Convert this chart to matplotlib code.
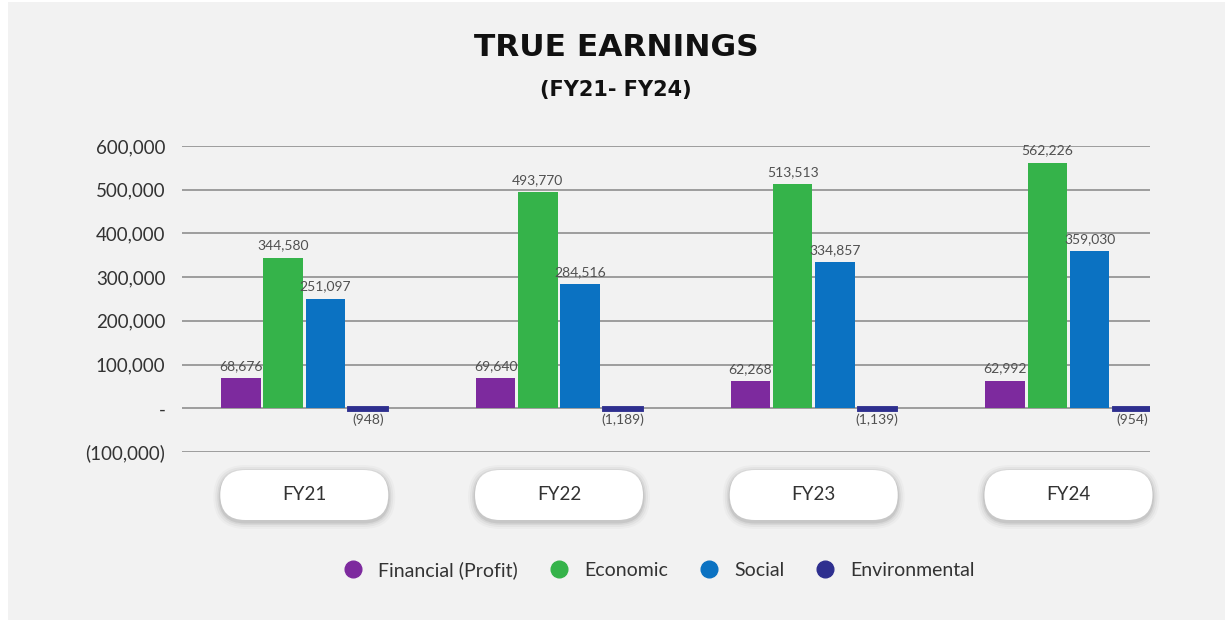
import matplotlib
matplotlib.use("Agg")
import matplotlib.pyplot as plt
from matplotlib.patches import FancyBboxPatch, Rectangle
from matplotlib.lines import Line2D
from matplotlib.ticker import FuncFormatter
import numpy as np

categories = ["FY21", "FY22", "FY23", "FY24"]
series_names = ["Financial (Profit)", "Economic", "Social", "Environmental"]
financial = [68676, 69640, 62268, 62992]
economic = [344580, 493770, 513513, 562226]
social = [251097, 284516, 334857, 359030]
environmental = [-948, -1189, -1139, -954]
colors = ["#7d2a9e", "#35b34a", "#0b72c2", "#2e2f8f"]
yticks = [-100000, 0, 100000, 200000, 300000, 400000, 500000, 600000]

W, H = 1232, 623
fig = plt.figure(figsize=(W / 100, H / 100), dpi=100, facecolor="white")
FONT = "Lato"

# background overlay axes in pixel coordinates
bg = fig.add_axes([0, 0, 1, 1], zorder=0)
bg.set_xlim(0, W)
bg.set_ylim(H, 0)
bg.axis("off")
bg.add_patch(Rectangle((8, 2), 1225 - 8, 620 - 2, facecolor="#f2f2f2",
                       edgecolor="none", zorder=0))

ax = fig.add_axes([182 / W, 1 - 452 / H, (1150 - 182) / W, (452 - 146) / H], zorder=2)
ax.set_facecolor("none")

x = np.arange(len(categories))
step = 0.166
bw = 0.155
all_series = [financial, economic, social, environmental]
for k, (vals, col) in enumerate(zip(all_series, colors)):
    pos = x + (k - 1.5) * step
    lw = 3.5 if k == 3 else 0
    ax.bar(pos, vals, width=bw if k < 3 else bw - 0.012, color=col,
           edgecolor=col, linewidth=lw, zorder=3)
    for p, v in zip(pos, vals):
        if v >= 0:
            ax.text(p, v + 14000, f"{v:,}", ha="center", va="bottom",
                    fontsize=10, color="#505050", family=FONT, zorder=4)
        else:
            ax.text(p, v - 11000, f"({abs(v):,})", ha="center", va="top",
                    fontsize=10, color="#505050", family=FONT, zorder=4)

ax.set_ylim(-100000, 600000)
ax.set_xlim(-0.48, 3.32)
ax.set_yticks(yticks)


def fmt(v, _):
    if v == 0:
        return "-"
    if v < 0:
        return f"({abs(int(v)):,})"
    return f"{int(v):,}"


ax.yaxis.set_major_formatter(FuncFormatter(fmt))
ax.set_xticks([])
ax.grid(axis="y", color="#8f8f8f", linewidth=1.2, zorder=1)
for s in ax.spines.values():
    s.set_visible(False)
ax.tick_params(axis="y", length=0, pad=12, labelsize=13.5, labelcolor="#333333")
for lab in ax.get_yticklabels():
    lab.set_family(FONT)

# titles
fig.text(0.5, 1 - 47 / H, "TRUE EARNINGS", ha="center", va="center",
         fontsize=22.5, fontweight="bold", family="DejaVu Sans", color="#111111")
fig.text(0.5, 1 - 90 / H, "(FY21- FY24)", ha="center", va="center",
         fontsize=15, fontweight="bold", family="DejaVu Sans", color="#111111")

# category pills (pixel coordinates on background axes)
fig.canvas.draw()
pw, ph = 168, 50
pcy = 495
for i, cat in enumerate(categories):
    disp = ax.transData.transform((i, 0))
    cx = bg.transData.inverted().transform(disp)[0]
    for grow, alpha in [(7, 0.025), (5, 0.035), (3, 0.05), (1.5, 0.07)]:
        sh = FancyBboxPatch((cx - pw / 2 - grow, pcy - ph / 2 - grow + 2),
                            pw + 2 * grow, ph + 2 * grow,
                            boxstyle=f"round,pad=0,rounding_size={ph / 2 + grow}",
                            facecolor="black", alpha=alpha, edgecolor="none", zorder=1)
        bg.add_patch(sh)
    pill = FancyBboxPatch((cx - pw / 2, pcy - ph / 2), pw, ph,
                          boxstyle=f"round,pad=0,rounding_size={ph / 2}",
                          facecolor="white", edgecolor="none", zorder=2)
    bg.add_patch(pill)
    bg.text(cx, pcy, cat, ha="center", va="center", fontsize=13.5,
            color="#333333", family=FONT, zorder=3)

handles = [Line2D([], [], linestyle="none", marker="o", markersize=12,
                  markerfacecolor=c, markeredgecolor=c) for c in colors]
fig.legend(handles, series_names, loc="center", bbox_to_anchor=(654 / W, 1 - 570 / H),
           ncol=4, frameon=False, prop={"family": FONT, "size": 14},
           handletextpad=0.3, columnspacing=1.1, labelcolor="#333333")

fig.savefig("out.png", dpi=100, facecolor="white")
